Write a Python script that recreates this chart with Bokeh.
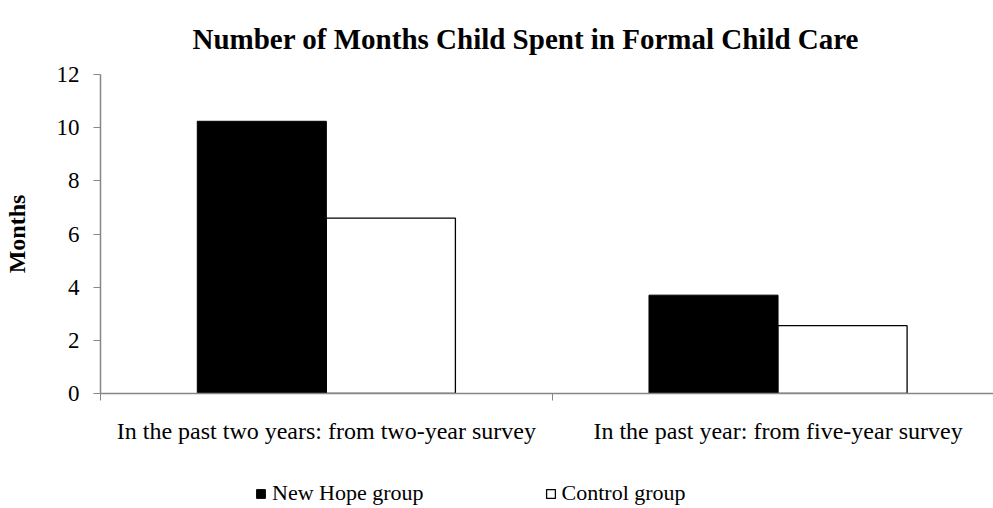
from bokeh.plotting import figure
from bokeh.layouts import column
from bokeh.models import (Range1d, FixedTicker, Legend, LegendItem,
                          ColumnDataSource, BoxAnnotation)
from bokeh.embed import file_html
from bokeh.resources import INLINE

# Data
categories = ["In the past two years: from two-year survey",
              "In the past year: from five-year survey"]
series = ["New Hope group", "Control group"]
new_hope = [10.24, 3.7]
control = [6.6, 2.55]
y_ticks = [0, 2, 4, 6, 8, 10, 12]

FONT = "Liberation Serif"
AXIS_GREY = "#868686"
NEW_HOPE_STYLE = dict(fill_color="black", line_color="black", line_width=1)
CONTROL_STYLE = dict(fill_color="white", line_color="black", line_width=1.3)

# Two bars per category, gap width 150% of one bar
bar_w = 1.0 / 3.5
centers = [i + 0.5 for i in range(len(categories))]
src_new = ColumnDataSource(dict(x=[c - bar_w / 2 for c in centers], top=new_hope))
src_ctl = ColumnDataSource(dict(x=[c + bar_w / 2 for c in centers], top=control))

x_range = Range1d(0, 1.977)
p = figure(width=993, height=460, output_backend="svg", toolbar_location=None,
           x_range=x_range, y_range=Range1d(0, 12),
           min_border_left=98, min_border_right=0,
           min_border_top=74, min_border_bottom=67)

p.title.text = "Number of Months Child Spent in Formal Child Care"
p.title.align = "left"
p.title.offset = 92
p.title.standoff = 39
p.title.text_font = FONT
p.title.text_font_size = "29px"
p.title.text_font_style = "bold"
p.title.text_color = "black"

p.vbar(x="x", top="top", source=src_new, width=bar_w, bottom=0, **NEW_HOPE_STYLE)
p.vbar(x="x", top="top", source=src_ctl, width=bar_w, bottom=0, **CONTROL_STYLE)

p.xgrid.visible = False
p.ygrid.visible = False
p.outline_line_color = None

# x axis: category labels at centres, tick marks at category boundaries
xa = p.xaxis[0]
xa.ticker = FixedTicker(ticks=centers, minor_ticks=list(range(len(categories) + 1)))
xa.major_label_overrides = {c: name for c, name in zip(centers, categories)}
xa.major_tick_line_color = None
xa.minor_tick_line_color = AXIS_GREY
xa.minor_tick_in = 0
xa.minor_tick_out = 7
xa.axis_line_color = AXIS_GREY
xa.axis_line_width = 1.5
xa.major_label_standoff = 17
xa.major_label_text_font = FONT
xa.major_label_text_font_size = "24px"
xa.major_label_text_color = "black"

ya = p.yaxis[0]
ya.ticker = FixedTicker(ticks=y_ticks)
ya.major_tick_in = 0
ya.major_tick_out = 7
ya.major_tick_line_color = AXIS_GREY
ya.minor_tick_line_color = None
ya.axis_line_color = AXIS_GREY
ya.axis_line_width = 1.5
ya.major_label_standoff = 14
ya.major_label_text_font = FONT
ya.major_label_text_font_size = "23px"
ya.major_label_text_color = "black"
ya.axis_label = "Months"
ya.axis_label_text_font = FONT
ya.axis_label_text_font_size = "24px"
ya.axis_label_text_font_style = "bold"
ya.axis_label_text_color = "black"
ya.axis_label_standoff = 24

# Legend strip underneath the chart. Its key renderers share the bar sources;
# a white box over the strip keeps them out of sight, and the legend sits on top.
leg = figure(width=993, height=48, output_backend="svg", toolbar_location=None,
             x_axis_type=None, y_axis_type=None, min_border=0,
             x_range=x_range, y_range=Range1d(100, 101))
leg.xgrid.visible = False
leg.ygrid.visible = False
leg.outline_line_color = None
k1 = leg.vbar(x="x", top="top", source=src_new, width=bar_w, bottom=0, **NEW_HOPE_STYLE)
k2 = leg.vbar(x="x", top="top", source=src_ctl, width=bar_w, bottom=0, **CONTROL_STYLE)
leg.add_layout(BoxAnnotation(fill_color="white", fill_alpha=1.0, line_color=None))

legend = Legend(items=[LegendItem(label=series[0], renderers=[k1]),
                       LegendItem(label=series[1], renderers=[k2])],
                orientation="horizontal", location=(155, 2),
                glyph_width=11, glyph_height=11, label_standoff=6,
                spacing=121, padding=0, margin=0,
                border_line_color=None, background_fill_alpha=0,
                label_text_font=FONT, label_text_font_size="22px",
                label_text_color="black")
leg.add_layout(legend)

page = column(p, leg, spacing=0)
open("out.html", "w").write(file_html(page, INLINE))
